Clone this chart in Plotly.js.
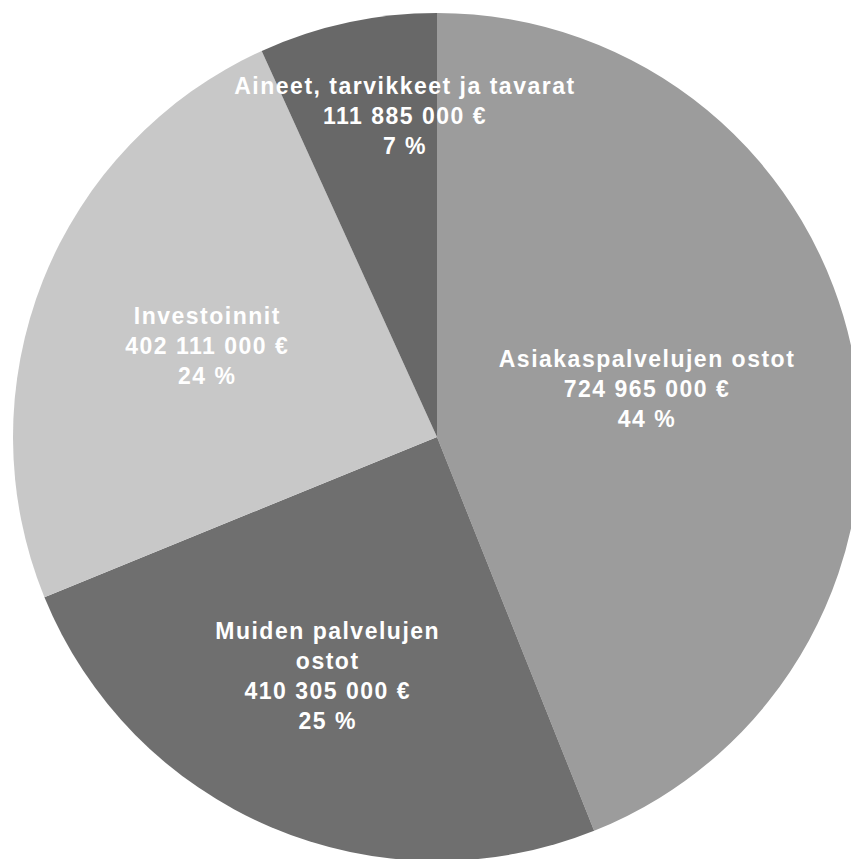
<!DOCTYPE html>
<html>
<head>
<meta charset="utf-8">
<script src="https://cdn.plot.ly/plotly-3.0.1.min.js"></script>
<style>
html, body { margin: 0; padding: 0; background: #ffffff; overflow: hidden; width: 851px; height: 859px; }
#chart { width: 874px; height: 874px; }
#chart svg text { letter-spacing: 1.5px; }
</style>
</head>
<body>
<div id="chart"></div>
<script>
// Data
var categories = ["Asiakaspalvelujen ostot", "Muiden palvelujen<br>ostot", "Investoinnit", "Aineet, tarvikkeet ja tavarat"];
var values = [724965000, 410305000, 402111000, 111885000];
var colors = ["#9c9c9c", "#6f6f6f", "#c8c8c8", "#686868"];

// Label placement style (radial fraction of radius, angular nudge in degrees)
var labelRadius = [0.507, 0.62, 0.583, 0.76];
var labelNudge = [-2, 1.5, 0, 6.5];

var W = 874, H = 874;
var cx = 437, cy = 437, R = 424;

function fmt(v) {
  return String(v).replace(/\B(?=(\d{3})+(?!\d))/g, " ") + " €";
}

var total = values.reduce(function (a, b) { return a + b; }, 0);

var trace = {
  type: "pie",
  labels: categories,
  values: values,
  sort: false,
  direction: "clockwise",
  rotation: 0,
  textinfo: "none",
  hoverinfo: "none",
  marker: { colors: colors, line: { width: 0 } },
  domain: { x: [(cx - R) / W, (cx + R) / W], y: [(H - cy - R) / H, (H - cy + R) / H] },
  showlegend: false
};

var annotations = [];
var cum = 0;
for (var i = 0; i < values.length; i++) {
  var frac = values[i] / total;
  var mid = (cum + frac / 2) * 360 + labelNudge[i];
  cum += frac;
  var rad = mid * Math.PI / 180;
  var px = cx + R * labelRadius[i] * Math.sin(rad);
  var py = cy - R * labelRadius[i] * Math.cos(rad);
  annotations.push({
    xref: "paper", yref: "paper",
    x: px / W, y: 1 - py / H,
    xanchor: "center", yanchor: "middle",
    showarrow: false,
    align: "center",
    text: categories[i] + "<br>" + fmt(values[i]) + "<br>" + Math.round(frac * 100) + " %",
    font: { family: "Liberation Sans, Arial, sans-serif", size: 23, color: "#ffffff", weight: "bold" }
  });
}

var layout = {
  width: W, height: H,
  margin: { l: 0, r: 0, t: 0, b: 0 },
  paper_bgcolor: "#ffffff",
  plot_bgcolor: "#ffffff",
  showlegend: false,
  annotations: annotations
};

Plotly.newPlot("chart", [trace], layout, { displayModeBar: false, staticPlot: true });
</script>
</body>
</html>
